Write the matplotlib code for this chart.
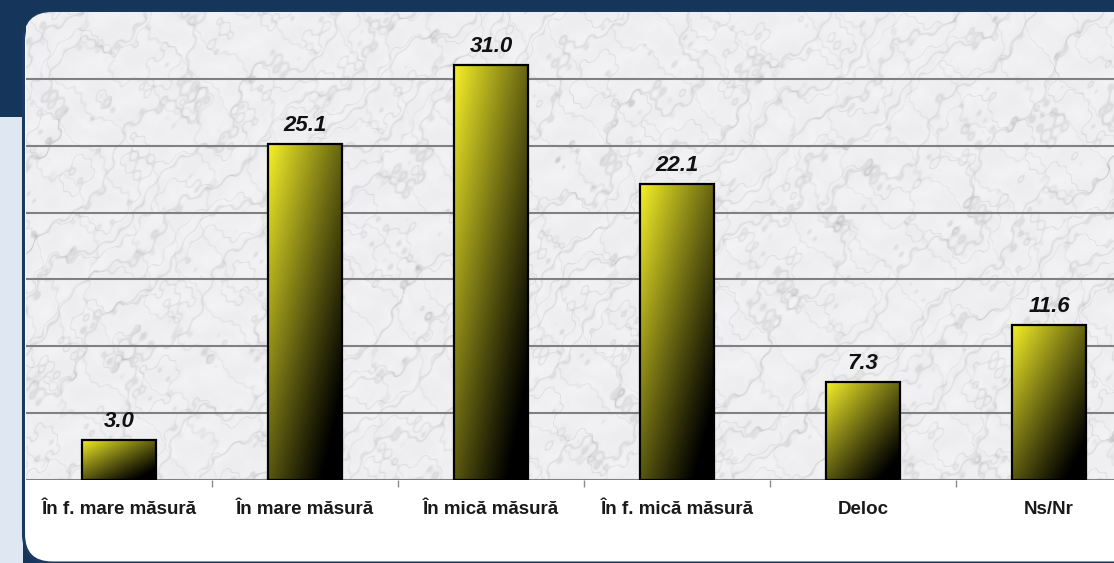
import numpy as np
import matplotlib
matplotlib.use('Agg')
import matplotlib.pyplot as plt
from matplotlib.patches import FancyBboxPatch, Rectangle
from matplotlib.ticker import FixedLocator

categorii = ['În f. mare măsură', 'În mare măsură', 'În mică măsură',
             'În f. mică măsură', 'Deloc', 'Ns/Nr']
valori = [3.0, 25.1, 31.0, 22.1, 7.3, 11.6]
etichete = ['3.0', '25.1', '31.0', '22.1', '7.3', '11.6']

W, H = 1114, 563
fig = plt.figure(figsize=(W / 100, H / 100), dpi=100)
fig.patch.set_facecolor('#15365a')

# fundal deschis in stanga jos
fig.patches.append(Rectangle((0, 0), 23 / W, (H - 117) / H, transform=fig.transFigure,
                             facecolor='#dfe7f3', edgecolor='none', zorder=-2))

# panoul alb cu colturi rotunjite
panou = FancyBboxPatch((0.235, 0.0), 12.0, 5.51 - 0.0,
                       boxstyle='round,pad=0,rounding_size=0.29',
                       transform=fig.dpi_scale_trans, facecolor='white',
                       edgecolor='#1a3a60', linewidth=2.2, zorder=-1)
fig.patches.append(panou)

pos = [26 / W, (H - 480) / H, (W - 26) / W, 468 / H]

# textura de marmura (decor)
bg = fig.add_axes(pos, zorder=0.5)
bg.axis('off')
yy, xx = np.mgrid[0:468, 0:1090].astype(float)
turb = (np.sin(xx * 0.013 + yy * 0.021) + 0.5 * np.sin(xx * 0.037 - yy * 0.029 + 1.3)
        + 0.3 * np.sin(xx * 0.093 + yy * 0.071 + 0.7) + 0.15 * np.sin(xx * 0.21 - yy * 0.17)
        + 0.08 * np.sin(xx * 0.47 + yy * 0.41 + 2.1))
v1 = np.sin((xx + yy) * 0.045 + 1.6 * turb)
v2 = np.sin((xx + 1.6 * yy) * 0.028 + 2.4 * turb + 0.8)
v3 = np.sin((xx - 0.6 * yy) * 0.06 + 1.2 * turb + 2.0)
vena = (np.exp(-v1 ** 2 / 0.02) * 0.5 + np.exp(-v2 ** 2 / 0.01) * 0.45
        + np.exp(-v3 ** 2 / 0.008) * 0.3)
pete = 0.5 + 0.5 * np.sin(xx * 0.11 + 3 * turb) * np.sin(yy * 0.13 - 2 * turb)
gri = 0.93 + 0.02 * pete - 0.15 * vena
img = np.clip(np.dstack([gri, gri, gri + 0.01]), 0, 1)
im = bg.imshow(img, extent=(0, 1, 0, 1), aspect='auto', interpolation='bilinear')
bg.set_xlim(0, 1)
bg.set_ylim(0, 1)
im.set_clip_path(panou)

ax = fig.add_axes(pos, zorder=1)
ax.set_facecolor('none')
x = np.arange(len(categorii))
latime = 0.4
bare = ax.bar(x, valori, width=latime, color='none', edgecolor='black',
              linewidth=1.6, zorder=4)

# gradient galben -> negru in fiecare bara
u = np.linspace(0, 1, 60)[None, :]
w = np.linspace(1, 0, 120)[:, None]
t = 0.55 * u + 0.6 * (1 - w)
f = np.clip(1 - t, 0, 1) ** 1.1
grad = np.dstack([0.96 * f, 0.94 * f, 0.16 * f])
for xi, vi, b in zip(x, valori, bare):
    g = ax.imshow(grad, extent=(xi - latime / 2, xi + latime / 2, 0, vi),
                  aspect='auto', interpolation='bilinear', zorder=3)
    g.set_clip_path(b)

for xi, vi, et in zip(x, valori, etichete):
    ax.annotate(et, (xi, vi), xytext=(0, 6), textcoords='offset points',
                ha='center', va='bottom', fontsize=16, fontweight='bold',
                fontstyle='italic', family=['Liberation Sans', 'DejaVu Sans'],
                color='#111111', zorder=5)

ax.set_xlim(-0.5, -0.5 + (W - 26) / 186)
ax.set_ylim(0, 35)
ax.set_yticks([])
for y in range(0, 35, 5):
    ax.axhline(y, color='#808080', linewidth=1.5, zorder=2)
for s in ax.spines.values():
    s.set_visible(False)

ax.set_xticks(x)
ax.set_xticklabels(categorii, fontsize=13.5, fontweight='bold',
                   family=['Liberation Sans', 'DejaVu Sans'], color='#1a1a1a')
ax.tick_params(axis='x', which='major', length=0, pad=15)
ax.xaxis.set_minor_locator(FixedLocator(x[:-1] + 0.5))
ax.tick_params(axis='x', which='minor', length=5, width=1, color='#8a8a8a')

plt.savefig('out.png', dpi=100, facecolor=fig.get_facecolor())
